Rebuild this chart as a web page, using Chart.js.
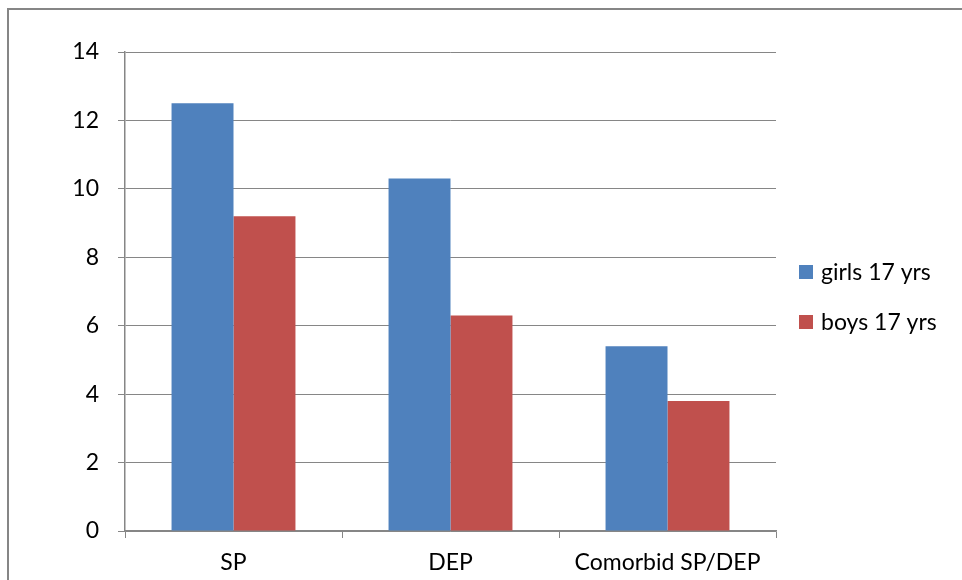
<!DOCTYPE html>
<html>
<head>
<meta charset="utf-8">
<script src="https://cdn.jsdelivr.net/npm/chart.js@4.4.1/dist/chart.umd.min.js"></script>
<style>
  html, body { margin: 0; padding: 0; background: #fff; }
  #wrap { position: relative; width: 962px; height: 580px; }
  #frame { position: absolute; left: 7px; top: 8px; width: 980px; height: 600px;
           border: 2px solid #868686; box-sizing: border-box; pointer-events: none; }
  canvas { position: absolute; left: 0; top: 0; }
</style>
</head>
<body>
<div id="wrap">
  <canvas id="c" width="962" height="580"></canvas>
  <div id="frame"></div>
</div>
<script>
const categories = ['SP', 'DEP', 'Comorbid SP/DEP'];
const girls17 = [12.5, 10.3, 5.4];
const boys17 = [9.2, 6.3, 3.8];
const seriesNames = ['girls 17 yrs', 'boys 17 yrs'];
const seriesColors = ['#4F81BD', '#C0504D'];

const FONT = 'Lato, "Open Sans", sans-serif';
const FONT_SIZE = 23;
const GRID = '#868686';

// Legend drawn on the right side, using dataset labels and colours
const sideLegend = {
  id: 'sideLegend',
  afterDraw(chart) {
    const ctx = chart.ctx;
    ctx.save();
    ctx.font = FONT_SIZE + 'px ' + FONT;
    ctx.textBaseline = 'middle';
    chart.data.datasets.forEach((ds, i) => {
      const cy = 272 + i * 50;
      ctx.fillStyle = ds.backgroundColor;
      ctx.fillRect(799, cy - 7, 14, 14);
      ctx.fillStyle = '#000';
      ctx.fillText(ds.label, 821, cy + 1);
    });
    ctx.restore();
  }
};

new Chart(document.getElementById('c'), {
  type: 'bar',
  data: {
    labels: categories,
    datasets: [
      { label: seriesNames[0], data: girls17, backgroundColor: seriesColors[0] },
      { label: seriesNames[1], data: boys17, backgroundColor: seriesColors[1] }
    ]
  },
  options: {
    responsive: false,
    animation: false,
    devicePixelRatio: 1,
    layout: { padding: { left: 0, right: 186, top: 52, bottom: 0 } },
    plugins: { legend: { display: false }, tooltip: { enabled: false } },
    datasets: { bar: { categoryPercentage: 0.571, barPercentage: 1.0 } },
    scales: {
      x: {
        grid: { display: true, drawOnChartArea: false, drawTicks: true, tickLength: 7, color: GRID, lineWidth: 1 },
        border: { color: GRID, width: 1.5 },
        ticks: { color: '#000', font: { family: FONT, size: FONT_SIZE }, padding: 11 },
        afterFit(scale) { scale.height = 49; }
      },
      y: {
        min: 0, max: 14,
        grid: { color: GRID, lineWidth: 1, tickLength: 7 },
        border: { color: GRID, width: 1.5 },
        ticks: { stepSize: 2, color: '#000', font: { family: FONT, size: FONT_SIZE }, padding: 19 },
        afterFit(scale) { scale.width = 125; }
      }
    }
  },
  plugins: [sideLegend]
});
</script>
</body>
</html>
